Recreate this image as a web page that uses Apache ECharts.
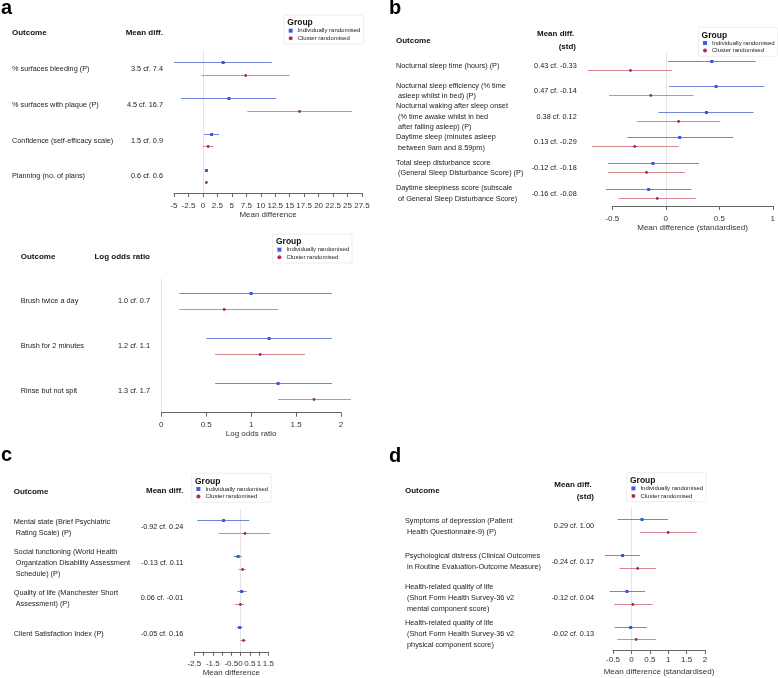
<!DOCTYPE html>
<html><head><meta charset="utf-8">
<script src="https://cdn.jsdelivr.net/npm/echarts@6/dist/echarts.min.js"></script>
<style>html,body{margin:0;padding:0;background:#fff}#c{width:778px;height:678px}</style>
</head><body><div id="c"></div><script>
// ---------- DATA ----------
const groupNames = ['Individually randomised', 'Cluster randomised'];

// Panel a (top): mean differences
const aTopOutcomes = [['% surfaces bleeding (P)'], ['% surfaces with plaque (P)'], ['Confidence (self-efficacy scale)'], ['Planning (no. of plans)']];
const aTopValueLabels = ['3.5 cf. 7.4', '4.5 cf. 16.7', '1.5 cf. 0.9', '0.6 cf. 0.6'];
const aTopIndMid = [3.5, 4.5, 1.5, 0.6];
const aTopIndLo = [-5.0, -3.8, 0.2, 0.4];
const aTopIndHi = [11.9, 12.7, 2.8, 0.8];
const aTopCluMid = [7.4, 16.7, 0.9, 0.6];
const aTopCluLo = [-0.3, 7.7, 0.0, 0.45];
const aTopCluHi = [15.0, 25.8, 1.8, 0.75];

// Panel a (bottom): log odds ratios
const aBotOutcomes = [['Brush twice a day'], ['Brush for 2 minutes'], ['Rinse but not spit']];
const aBotValueLabels = ['1.0 cf. 0.7', '1.2 cf. 1.1', '1.3 cf. 1.7'];
const aBotIndMid = [1.0, 1.2, 1.3];
const aBotIndLo = [0.2, 0.5, 0.6];
const aBotIndHi = [1.9, 1.9, 1.9];
const aBotCluMid = [0.7, 1.1, 1.7];
const aBotCluLo = [0.2, 0.6, 1.3];
const aBotCluHi = [1.3, 1.6, 2.11];

// Panel b: standardised mean differences
const bOutcomes = [
  ['Nocturnal sleep time (hours) (P)'],
  ['Nocturnal sleep efficiency (% time', ' asleep whilst in bed) (P)'],
  ['Nocturnal waking after sleep onset', ' (% time awake whilst in bed', ' after falling asleep) (P)'],
  ['Daytime sleep (minutes asleep', ' between 9am and 8.59pm)'],
  ['Total sleep disturbance score', ' (General Sleep Disturbance Score) (P)'],
  ['Daytime sleepiness score (subscale', ' of General Sleep Disturbance Score)']
];
const bValueLabels = ['0.43 cf. -0.33', '0.47 cf. -0.14', '0.38 cf. 0.12', '0.13 cf. -0.29', '-0.12 cf. -0.18', '-0.16 cf. -0.08'];
const bIndMid = [0.43, 0.47, 0.38, 0.13, -0.12, -0.16];
const bIndLo = [0.02, 0.03, -0.07, -0.36, -0.54, -0.56];
const bIndHi = [0.84, 0.92, 0.82, 0.63, 0.31, 0.24];
const bCluMid = [-0.33, -0.14, 0.12, -0.29, -0.18, -0.08];
const bCluLo = [-0.73, -0.53, -0.27, -0.69, -0.54, -0.44];
const bCluHi = [0.06, 0.26, 0.51, 0.12, 0.18, 0.28];

// Panel c: mean differences
const cOutcomes = [
  ['Mental state (Brief Psychiatric', ' Rating Scale) (P)'],
  ['Social functioning (World Health', ' Organization Disability Assessment', ' Schedule) (P)'],
  ['Quality of life (Manchester Short', ' Assessment) (P)'],
  ['Client Satisfaction Index (P)']
];
const cValueLabels = ['-0.92 cf. 0.24', '-0.13 cf. 0.11', '0.06 cf. -0.01', '-0.05 cf. 0.16'];
const cIndMid = [-0.92, -0.13, 0.06, -0.05];
const cIndLo = [-2.34, -0.36, -0.18, -0.19];
const cIndHi = [0.47, 0.08, 0.33, 0.11];
const cCluMid = [0.24, 0.11, -0.01, 0.16];
const cCluLo = [-1.18, -0.10, -0.30, -0.02];
const cCluHi = [1.60, 0.29, 0.20, 0.30];
const cTickLabelsShown = [-2.5, -1.5, -0.5, 0, 0.5, 1, 1.5];

// Panel d: standardised mean differences
const dOutcomes = [
  ['Symptoms of depression (Patient', ' Health Questionnaire-9) (P)'],
  ['Psychological distress (Clinical Outcomes', ' in Routine Evaluation-Outcome Measure)'],
  ['Health-related quality of life', ' (Short Form Health Survey-36 v2', ' mental component score)'],
  ['Health-related quality of life', ' (Short Form Health Survey-36 v2', ' physical component score)']
];
const dValueLabels = ['0.29 cf. 1.00', '-0.24 cf. 0.17', '-0.12 cf. 0.04', '-0.02 cf. 0.13'];
const dIndMid = [0.29, -0.24, -0.12, -0.02];
const dIndLo = [-0.38, -0.72, -0.59, -0.45];
const dIndHi = [0.99, 0.23, 0.37, 0.42];
const dCluMid = [1.00, 0.17, 0.04, 0.13];
const dCluLo = [0.24, -0.32, -0.47, -0.38];
const dCluHi = [1.78, 0.67, 0.58, 0.67];

// ---------- STYLE / LAYOUT ----------
const FONT = '"Liberation Sans", Arial, Helvetica, sans-serif';
const BLUE_LINE = '#7086d8', BLUE_PT = '#3558d8';
const RED_LINE = '#d98791', RED_PT = '#a3294f';
const TXT = '#222';

const panels = [
  { letter: 'a', letterPos: [1, 8],
    outcomes: aTopOutcomes, values: aTopValueLabels,
    ind: [aTopIndMid, aTopIndLo, aTopIndHi], clu: [aTopCluMid, aTopCluLo, aTopCluHi],
    left: 174, right: 362, top: 50.7, axisY: 193, firstPx: 62.3, stepPx: 35.8, redPx: 12.4,
    xMin: -5, xMax: 27.5, xInt: 2.5, xName: 'Mean difference', nameGap: 17.5, margin: 8.5,
    labelLeft: 12, valueRight: 163, lineH: 10.6,
    headers: [['Outcome', 12, 33, 'left'], ['Mean diff.', 163, 33, 'right']],
    legend: [284, 15] },
  { outcomes: aBotOutcomes, values: aBotValueLabels,
    ind: [aBotIndMid, aBotIndLo, aBotIndHi], clu: [aBotCluMid, aBotCluLo, aBotCluHi],
    left: 161.3, right: 341, top: 279, axisY: 412.7, firstPx: 292.7, stepPx: 45, redPx: 16,
    xMin: 0, xMax: 2, xInt: 0.5, xName: 'Log odds ratio', nameGap: 16.8, margin: 7.8,
    labelLeft: 20.7, valueRight: 150, lineH: 10.6,
    headers: [['Outcome', 20.7, 256.7, 'left'], ['Log odds ratio', 150, 256.7, 'right']],
    legend: [272.7, 234] },
  { letter: 'b', letterPos: [389, 8],
    outcomes: bOutcomes, values: bValueLabels,
    ind: [bIndMid, bIndLo, bIndHi], clu: [bCluMid, bCluLo, bCluHi],
    left: 612.3, right: 776.7, top: 53, axisY: 206, firstPx: 60.5, stepPx: 25.6, redPx: 9,
    xMin: -0.5, xMax: 1, xInt: 0.5, xName: 'Mean difference (standardised)', nameGap: 17.5, margin: 8.5,
    labelLeft: 396, valueRight: 576.7, lineH: 10.6,
    headers: [['Outcome', 396, 40.7, 'left'], ['Mean diff.', 574.3, 34, 'right'], ['(std)', 576, 46.7, 'right']],
    legend: [698.3, 27.3] },
  { letter: 'c', letterPos: [1, 455.7],
    outcomes: cOutcomes, values: cValueLabels,
    ind: [cIndMid, cIndLo, cIndHi], clu: [cCluMid, cCluLo, cCluHi],
    left: 194.3, right: 268.3, top: 510, axisY: 652.3, firstPx: 520.3, stepPx: 35.7, redPx: 13,
    xMin: -2.5, xMax: 1.5, xInt: 0.5, xName: 'Mean difference', nameGap: 17.2, margin: 8.2,
    shownTicks: cTickLabelsShown,
    labelLeft: 13.7, valueRight: 183.3, lineH: 10.9,
    headers: [['Outcome', 13.7, 491.3, 'left'], ['Mean diff.', 183.3, 491, 'right']],
    legend: [191.7, 473.3] },
  { letter: 'd', letterPos: [389, 456],
    outcomes: dOutcomes, values: dValueLabels,
    ind: [dIndMid, dIndLo, dIndHi], clu: [dCluMid, dCluLo, dCluHi],
    left: 613, right: 705, top: 508, axisY: 650, firstPx: 519.3, stepPx: 35.8, redPx: 12.6,
    xMin: -0.5, xMax: 2, xInt: 0.5, xName: 'Mean difference (standardised)', nameGap: 17.8, margin: 5.5,
    labelLeft: 405, valueRight: 594, lineH: 11,
    headers: [['Outcome', 405, 490.7, 'left'], ['Mean diff.', 591.7, 484.3, 'right'], ['(std)', 594, 496.7, 'right']],
    legend: [626.7, 472.7] }
];

function renderFactory(isInd) {
  return function (params, api) {
    const y = api.value(0);
    const a = api.coord([api.value(1), y]);
    const b = api.coord([api.value(2), y]);
    const m = api.coord([api.value(3), y]);
    const yy = Math.round(a[1]) + 0.5;
    const line = { type: 'line', shape: { x1: a[0], y1: yy, x2: b[0], y2: yy },
      style: { stroke: isInd ? BLUE_LINE : RED_LINE, lineWidth: 1 } };
    const pt = isInd
      ? { type: 'rect', shape: { x: m[0] - 1.5, y: yy - 1.5, width: 3, height: 3 }, style: { fill: BLUE_PT } }
      : { type: 'circle', shape: { cx: m[0], cy: yy, r: 1.4 }, style: { fill: RED_PT } };
    return { type: 'group', children: [line, pt] };
  };
}

const grids = [], xAxes = [], yAxes = [], series = [], legends = [];
panels.forEach((p, g) => {
  const height = p.axisY - p.top;
  grids.push({ left: p.left, top: p.top, width: p.right - p.left, height: height });
  const off = p.redPx / p.stepPx;
  const yMin = (p.top - p.firstPx) / p.stepPx;
  const yMax = (p.axisY - p.firstPx) / p.stepPx;
  xAxes.push({
    type: 'value', gridIndex: g, min: p.xMin, max: p.xMax, interval: p.xInt, position: 'bottom',
    axisLine: { onZero: false, lineStyle: { color: '#666', width: 1 } },
    axisTick: { show: true, length: 4, lineStyle: { color: '#666' } },
    splitLine: { show: false },
    axisLabel: { fontSize: 8, color: '#333', fontFamily: FONT, margin: p.margin, showMinLabel: true, showMaxLabel: true,
      formatter: function (v) {
        if (p.shownTicks && !p.shownTicks.some(t => Math.abs(t - v) < 1e-9)) return '';
        return String(v);
      } },
    name: p.xName, nameLocation: 'middle', nameGap: p.nameGap,
    nameTextStyle: { fontSize: 8, color: '#333', fontFamily: FONT }
  });
  yAxes.push({
    type: 'value', gridIndex: g, inverse: true, min: yMin, max: yMax,
    axisLine: { show: true, onZero: true, lineStyle: { color: '#e4e4e4', width: 1 } },
    axisTick: { show: false }, axisLabel: { show: false }, splitLine: { show: false }
  });
  const indData = p.ind[0].map((m, i) => [i, p.ind[1][i], p.ind[2][i], m]);
  const cluData = p.clu[0].map((m, i) => [i + off, p.clu[1][i], p.clu[2][i], m]);
  series.push({ type: 'custom', name: groupNames[0], xAxisIndex: g, yAxisIndex: g, clip: false,
    itemStyle: { color: BLUE_PT }, renderItem: renderFactory(true), encode: { x: [1, 2, 3], y: 0 }, data: indData, silent: true });
  series.push({ type: 'custom', name: groupNames[1], xAxisIndex: g, yAxisIndex: g, clip: false,
    itemStyle: { color: RED_PT }, renderItem: renderFactory(false), encode: { x: [1, 2, 3], y: 0 }, data: cluData, silent: true });
  legends.push({
    left: p.legend[0], top: p.legend[1], orient: 'vertical', padding: [12.2, 3, 2.2, 4.7],
    itemWidth: 4, itemHeight: 4, itemGap: 0.6, z: 2,
    backgroundColor: '#fff', borderColor: '#e8e8e8', borderWidth: 0.8, borderRadius: 2,
    selectedMode: false,
    textStyle: { fontSize: 6, color: '#222', fontFamily: FONT, lineHeight: 7 },
    data: [{ name: groupNames[0], icon: 'rect', itemStyle: { color: '#3d5fe0' } },
           { name: groupNames[1], icon: 'circle', itemStyle: { color: '#b02a5c' } }]
  });
});

const chart = echarts.init(document.getElementById('c'), null, { renderer: 'canvas' });
chart.setOption({
  animation: false,
  backgroundColor: '#fff',
  textStyle: { fontFamily: FONT },
  grid: grids, xAxis: xAxes, yAxis: yAxes, series: series, legend: legends
});

// ---------- TEXT ANNOTATIONS (positioned from the axes' own scales) ----------
const graphics = [];
function txt(s, x, y, align, size, weight, color) {
  graphics.push({ type: 'text', x: x, y: y, silent: true, z: 100, zlevel: 0,
    style: { text: s, textAlign: align, textVerticalAlign: 'middle', fontSize: size, fontWeight: weight || 'normal',
      fontFamily: FONT, fill: color || TXT } });
}
panels.forEach((p, g) => {
  const off = p.redPx / p.stepPx;
  if (p.letter) txt(p.letter, p.letterPos[0], p.letterPos[1], 'left', 20, 'bold', '#000');
  p.headers.forEach(h => txt(h[0], h[1], h[2], h[3], 8, 'bold', '#111'));
  p.outcomes.forEach((lines, i) => {
    const yc = chart.convertToPixel({ gridIndex: g }, [0, i + off / 2])[1] + 0.5;
    const n = lines.length;
    lines.forEach((ln, j) => txt(ln, p.labelLeft, yc + (j - (n - 1) / 2) * p.lineH, 'left', 7.3));
    txt(p.values[i], p.valueRight, yc, 'right', 7.3);
  });
  txt('Group', p.legend[0] + 3.3, p.legend[1] + 8, 'left', 8.5, 'bold', '#111');
});
chart.setOption({ graphic: { elements: graphics } });
</script></body></html>
